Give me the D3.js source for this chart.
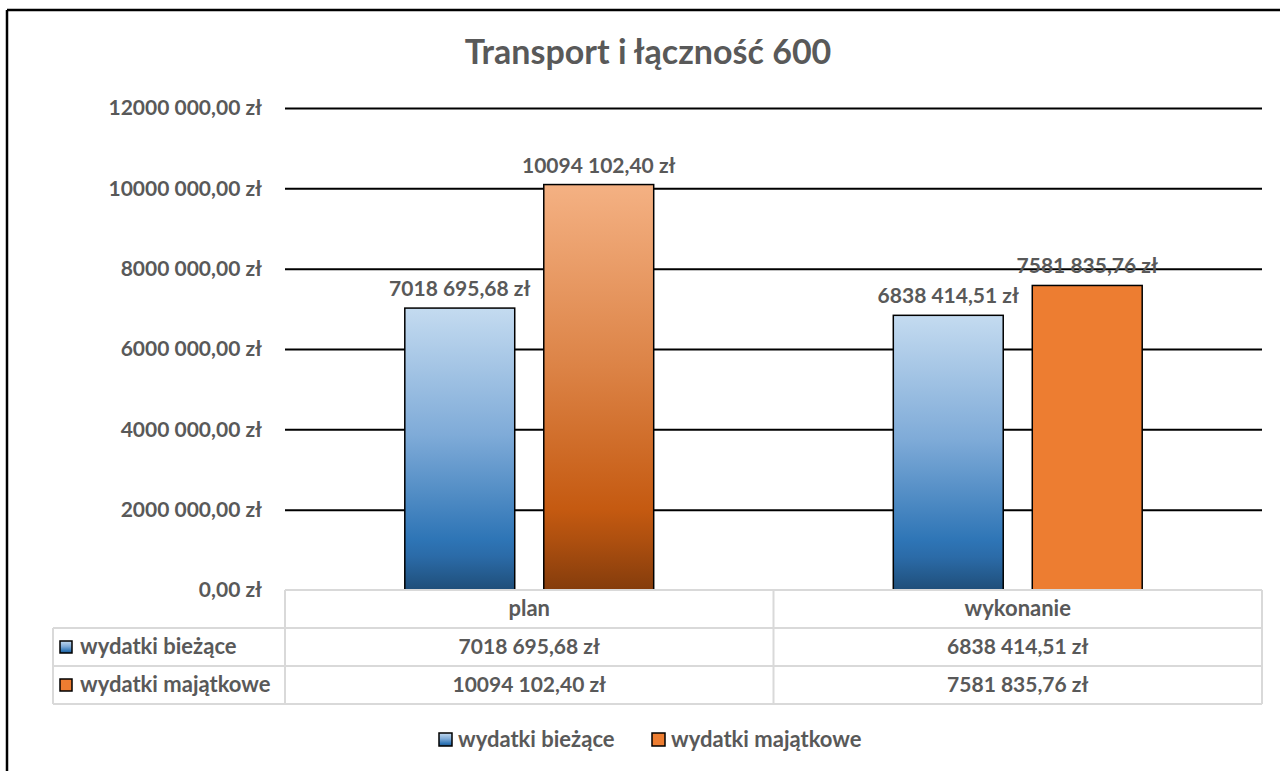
<!DOCTYPE html>
<html lang="pl">
<head>
<meta charset="UTF-8">
<title>Transport i łączność 600</title>
<script src="https://d3js.org/d3.v7.min.js"></script>
<style>
  body { margin: 0; background: #fff; }
  text { font-family: Lato, "Open Sans", sans-serif; font-weight: bold; fill: #595959; }
</style>
</head>
<body>
<div id="chart"></div>
<script>
// data
const categories = ["plan", "wykonanie"];
const seriesNames = ["wydatki bieżące", "wydatki majątkowe"];
const biezace = [7018695.68, 6838414.51];
const majatkowe = [10094102.40, 7581835.76];
const yTicks = [0, 2000000, 4000000, 6000000, 8000000, 10000000, 12000000];

const width = 1280, height = 771;
const plot = { left: 285, right: 1262, top: 108, bottom: 590 };
const rowH = 38;
const numSize = "21px", wordSize = "22px";

// "7018 695,68 zł" style used by the sheet
function zl(v) {
  const cents = Math.round(v * 100);
  const intPart = Math.floor(cents / 100);
  const frac = String(cents % 100).padStart(2, "0");
  const hi = Math.floor(intPart / 1000);
  const lo = String(intPart % 1000).padStart(3, "0");
  return (hi > 0 ? hi + " " + lo : String(intPart)) + "," + frac + " zł";
}

const svg = d3.select("#chart").append("svg")
  .attr("width", width).attr("height", height);

const defs = svg.append("defs");
function grad(id, stops) {
  const g = defs.append("linearGradient").attr("id", id)
    .attr("x1", 0).attr("y1", 0).attr("x2", 0).attr("y2", 1);
  stops.forEach(s => g.append("stop").attr("offset", s[0]).attr("stop-color", s[1]));
}
grad("blueGrad", [[0, "#c4dbf0"], [0.45, "#7fabd8"], [0.82, "#2e75b6"], [0.88, "#2b6ba8"], [1, "#1f4e79"]]);
grad("orangeGrad", [[0, "#f4b183"], [0.45, "#dc8346"], [0.8, "#c55a11"], [0.88, "#ad4f0f"], [1, "#843c0c"]]);

// outer frame (cut at the window edge)
svg.append("line").attr("x1", 7).attr("x2", width).attr("y1", 10).attr("y2", 10)
  .attr("stroke", "#000").attr("stroke-width", 2.5);
svg.append("line").attr("x1", 7).attr("x2", 7).attr("y1", 10).attr("y2", height)
  .attr("stroke", "#000").attr("stroke-width", 2.5);

// title
svg.append("text").attr("x", 648).attr("y", 64).attr("text-anchor", "middle")
  .style("font-size", "34px").text("Transport i łączność 600");

const y = d3.scaleLinear().domain([0, 12000000]).range([plot.bottom, plot.top]);
const x0 = d3.scaleBand().domain(categories).range([plot.left, plot.right]);
const x1 = d3.scaleBand().domain(seriesNames).range([0, x0.bandwidth()])
  .paddingInner(0.209).paddingOuter(0.862);

// gridlines + tick labels
const yAxis = svg.append("g").attr("transform", "translate(" + plot.left + ",0)")
  .call(d3.axisLeft(y).tickValues(yTicks).tickSize(-(plot.right - plot.left)).tickPadding(23).tickFormat(zl));
yAxis.select(".domain").remove();
yAxis.selectAll(".tick line").attr("stroke", "#000").attr("stroke-width", 2)
  .filter(d => d === 0).remove();
yAxis.selectAll(".tick text").style("font-size", numSize).attr("fill", "#595959")
  .attr("font-family", null);

// bars
const fills = [
  ["url(#blueGrad)", "url(#blueGrad)"],
  ["url(#orangeGrad)", "#ed7d31"]
];
const series = [biezace, majatkowe];
const bars = [];
series.forEach((vals, si) => {
  categories.forEach((c, ci) => {
    bars.push({ cat: c, name: seriesNames[si], value: vals[ci], fill: fills[si][ci] });
  });
});

svg.append("g").selectAll("rect").data(bars).join("rect")
  .attr("x", d => x0(d.cat) + x1(d.name))
  .attr("y", d => y(d.value))
  .attr("width", x1.bandwidth())
  .attr("height", d => y(0) - y(d.value))
  .attr("fill", d => d.fill)
  .attr("stroke", "#000").attr("stroke-width", 1.5);

svg.append("g").selectAll("text").data(bars).join("text")
  .attr("x", d => x0(d.cat) + x1(d.name) + x1.bandwidth() / 2)
  .attr("y", d => y(d.value) - 12)
  .attr("text-anchor", "middle")
  .style("font-size", numSize)
  .text(d => zl(d.value));

// data table
const tbl = svg.append("g");
const tableLeft = 53;
const lineCol = "#d9d9d9";
function hline(x1_, x2_, yy) {
  tbl.append("line").attr("x1", x1_).attr("x2", x2_).attr("y1", yy).attr("y2", yy)
    .attr("stroke", lineCol).attr("stroke-width", 2);
}
function vline(xx, y1_, y2_) {
  tbl.append("line").attr("x1", xx).attr("x2", xx).attr("y1", y1_).attr("y2", y2_)
    .attr("stroke", lineCol).attr("stroke-width", 2);
}
hline(plot.left, plot.right, plot.bottom);
hline(tableLeft, plot.right, plot.bottom + rowH);
hline(tableLeft, plot.right, plot.bottom + rowH * 2);
hline(tableLeft, plot.right, plot.bottom + rowH * 3);
vline(tableLeft, plot.bottom + rowH, plot.bottom + rowH * 3);
vline(plot.left, plot.bottom, plot.bottom + rowH * 3);
categories.forEach(c => vline(x0(c) + x0.bandwidth(), plot.bottom, plot.bottom + rowH * 3));

categories.forEach(c => {
  tbl.append("text").attr("x", x0(c) + x0.bandwidth() / 2).attr("y", plot.bottom + 26)
    .attr("text-anchor", "middle").style("font-size", wordSize).text(c);
});
const swatchFill = ["url(#blueGrad)", "#ed7d31"];
seriesNames.forEach((s, si) => {
  const ry = plot.bottom + rowH * (si + 1);
  tbl.append("rect").attr("x", 60).attr("y", ry + 13).attr("width", 12).attr("height", 12)
    .attr("fill", swatchFill[si]).attr("stroke", "#000").attr("stroke-width", 1.5);
  tbl.append("text").attr("x", 80).attr("y", ry + 26).style("font-size", wordSize).text(s);
  categories.forEach((c, ci) => {
    tbl.append("text").attr("x", x0(c) + x0.bandwidth() / 2).attr("y", ry + 26)
      .attr("text-anchor", "middle").style("font-size", numSize).text(zl(series[si][ci]));
  });
});

// legend
const legend = svg.append("g");
const legendX = [439, 652];
seriesNames.forEach((s, si) => {
  legend.append("rect").attr("x", legendX[si]).attr("y", 733).attr("width", 13).attr("height", 13)
    .attr("fill", swatchFill[si]).attr("stroke", "#000").attr("stroke-width", 1.5);
  legend.append("text").attr("x", legendX[si] + 19).attr("y", 747).style("font-size", wordSize).text(s);
});
</script>
</body>
</html>
